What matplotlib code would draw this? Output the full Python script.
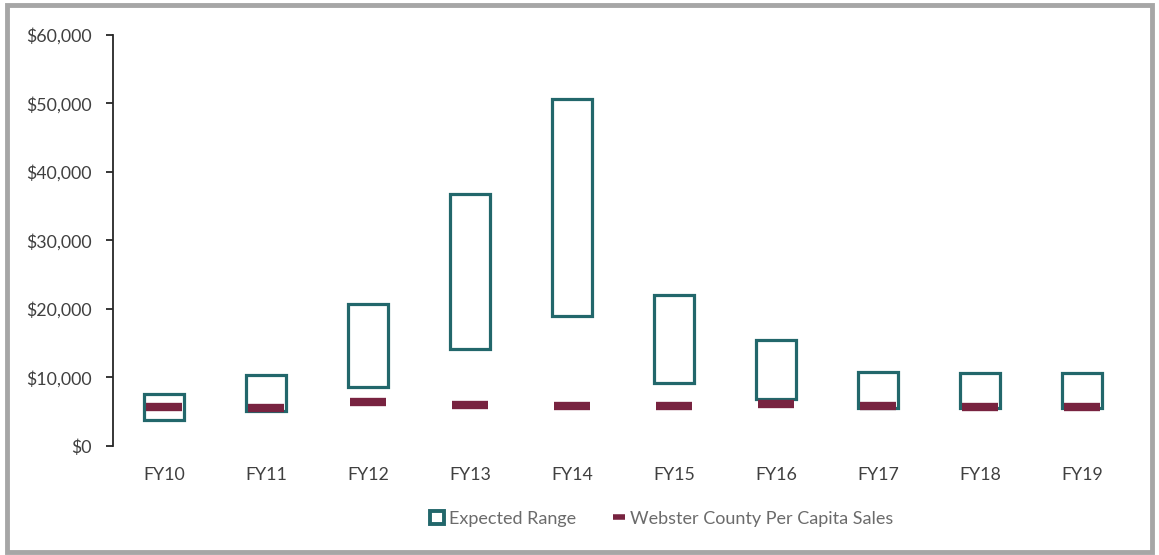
import matplotlib
matplotlib.use("Agg")
import matplotlib.pyplot as plt
from matplotlib.patches import Patch, Rectangle
from matplotlib.lines import Line2D
from matplotlib.ticker import FuncFormatter

categories = ["FY10", "FY11", "FY12", "FY13", "FY14", "FY15", "FY16", "FY17", "FY18", "FY19"]
range_low = [3800, 5100, 8600, 14100, 19000, 9200, 6800, 5600, 5500, 5500]
range_high = [7600, 10400, 20800, 36800, 50700, 22100, 15400, 10800, 10700, 10700]
county_sales = [5700, 5600, 6400, 6000, 5900, 5900, 6100, 5900, 5700, 5700]

teal = "#22676b"
maroon = "#782340"
text_col = "#404040"

plt.rcParams['font.family'] = ['Lato', 'DejaVu Sans']

fig = plt.figure(figsize=(11.59, 5.55), dpi=100)
ax = fig.add_axes([0.0975, 0.1964, 0.88, 0.7406])

x = list(range(len(categories)))
heights = [h - l for h, l in zip(range_high, range_low)]
ax.bar(x, heights, bottom=range_low, width=0.4, facecolor="none",
       edgecolor=teal, linewidth=2.3)
ax.hlines(county_sales, [i - 0.18 for i in x], [i + 0.18 for i in x],
          colors=maroon, linewidth=6)

ax.set_xlim(-0.5, len(categories) - 0.5)
ax.set_ylim(0, 60000)
ax.set_yticks(range(0, 60001, 10000))
ax.yaxis.set_major_formatter(FuncFormatter(lambda v, p: f"${v:,.0f}"))
ax.set_xticks(x)
ax.set_xticklabels(categories)

for s in ["top", "right", "bottom"]:
    ax.spines[s].set_visible(False)
ax.spines["left"].set_color("#262626")
ax.spines["left"].set_linewidth(1.3)
ax.tick_params(axis="y", length=5, width=1.3, color="#262626", labelsize=12.8,
               labelcolor=text_col, pad=10)
ax.tick_params(axis="x", length=0, labelsize=12.8, labelcolor=text_col, pad=15)

handles = [Patch(facecolor="white", edgecolor=teal, linewidth=2.8),
           Line2D([0], [0], color=maroon, linestyle="none", marker="_",
                  markersize=9, markeredgewidth=4)]
leg = fig.legend(handles, ["Expected Range", "Webster County Per Capita Sales"],
                 loc="center", bbox_to_anchor=(0.571, 0.065), ncol=2, frameon=False,
                 fontsize=13, handlelength=0.75, handleheight=0.75,
                 handletextpad=0.25, columnspacing=2.0)
for t in leg.get_texts():
    t.set_color("#6b6b6b")

fig.patches.append(Rectangle((0.006, 0.005), 0.988, 0.986, transform=fig.transFigure,
                             fill=False, edgecolor="#a6a6a6", linewidth=3.5))

fig.savefig("out.png", dpi=100)
